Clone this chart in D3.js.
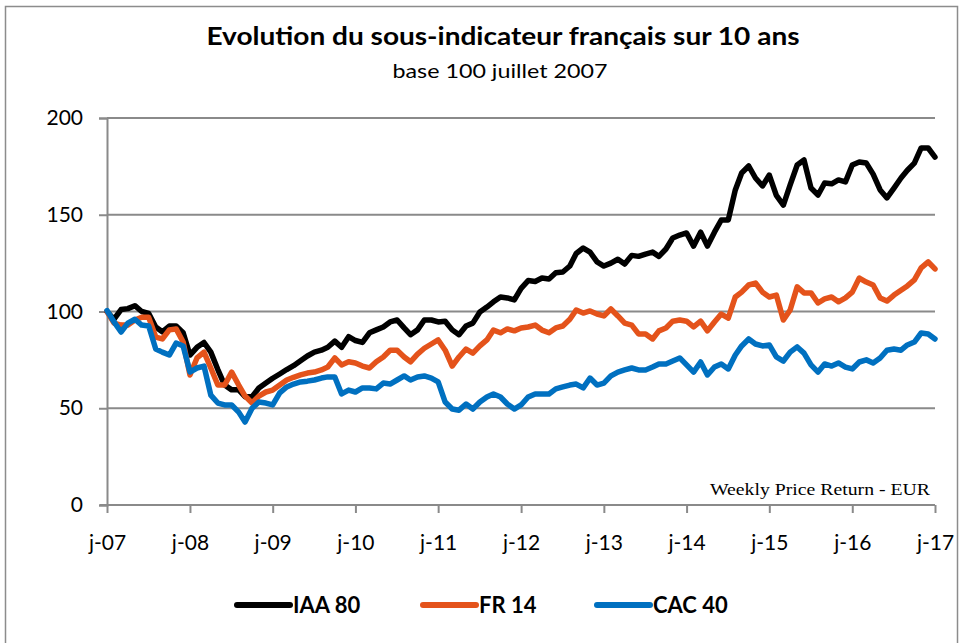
<!doctype html>
<html>
<head>
<meta charset="utf-8">
<title>Evolution du sous-indicateur français</title>
<style>
* {padding:0;margin:0}
body {background:#fff}
</style>
</head>
<body>
<div id="chart"></div>
<script src="https://d3js.org/d3.v7.min.js"></script>
<script>
// valeurs mensuelles, base 100 juillet 2007
const iaa80 = [100,96,101,101.5,103,100,99,92,89.5,92.5,92.5,89,77.5,81.5,84,79,70,62,59.5,59.5,56,56,60.5,63,65.5,
  67.7,70,72,74.5,77,79,80,81.5,84.7,81.5,87,85,84,89,90.5,92,94.6,95.6,91.5,88,90.5,95.6,95.6,94.6,95,90.5,88,92.5,94,
  99.7,102.3,105,107.5,107,106,112,116,115.5,117.3,116.8,120,120.4,123.5,130,132.8,130.7,125.6,123.5,125,127,124.5,129,128.5,
  129.7,130.7,128.5,132.3,138,139.5,140.6,133.8,141,133.8,141,147.3,147.3,162.8,171.6,175.2,169,164.9,170.5,160,155,165.4,
  175.7,178.3,163.8,160.2,166.4,166,168,167,175.7,177.3,176.7,171,162.8,158.7,163.8,169,173,176.7,184.5,184.5,179.8];
const fr14 = [100,94,93,93,95.6,97,97,86.8,85.8,90.5,91,84.2,67.2,76,79,70.8,62,62,68.7,62,56.3,52.7,56.3,58.4,59.4,
  62,64.6,66,67.2,68.2,68.7,69.8,71.3,76,72.4,74,73.4,71.8,70.8,74,76.5,80,80,76.5,74,78,81,83.2,85.3,80,71.8,76.5,80.6,78.5,
  82.2,85.3,90.4,89,91,90,91.5,92,93,90.4,89,91.5,92.5,96,100.8,99.2,100.3,98.7,97.7,101.3,97.7,94,93,88.4,88.4,85.8,90,91.5,
  95,95.6,95,92,95,90,94.6,98.7,96.6,107.5,110,113.7,114.7,110,107.5,108.5,95.6,100.8,112.7,109.6,109.6,104.4,106.5,107.5,
  105,107,110,117.3,115.2,113.7,107,105.4,108.5,111,113.2,116.3,122.5,125.6,122];
const cac40 = [100.5,94.6,89.4,94,96,93,92.5,80.6,79,77.5,83.7,82.2,68.7,70.8,71.8,56.8,52.7,51.7,51.7,48,42.9,50,53.2,52.7,51.7,
  57.9,61,62.5,63.6,64,64.6,65.6,66.2,66.2,57.4,59.4,58.4,60.5,60.5,60,63,62.5,64.6,66.7,64.6,66.2,66.7,65.6,63.6,53.2,49.6,49,
  52.2,49.6,53.2,55.8,57.4,55.8,52.2,49.6,51.7,55.8,57.4,57.4,57.4,60,61,62,62.5,60.5,65.6,62,63,66.7,68.7,69.8,70.8,69.8,69.8,
  71.3,72.9,72.9,74.4,76,72.4,68.7,73.9,67.2,71.3,72.9,70.3,77.5,82.2,85.8,83.2,82.2,82.7,76.5,74.4,79,81.7,78.5,72.4,68.7,
  72.9,71.8,73.4,71.3,70.3,73.9,75,73.4,76,80,80.6,80,82.7,84.2,88.9,88.4,85.8];

const seriesNames = ["IAA 80", "FR 14", "CAC 40"];
const seriesColors = ["#000000", "#E4531B", "#0070C0"];
const xTickLabels = ["j-07","j-08","j-09","j-10","j-11","j-12","j-13","j-14","j-15","j-16","j-17"];
const yTicks = [0, 50, 100, 150, 200];

const dates = d3.timeMonth.range(new Date(2007, 6, 1), new Date(2017, 6, 2));
const yearTicks = d3.timeYear.range(new Date(2007, 0, 1), new Date(2018, 0, 1)).map(d => new Date(d.getFullYear(), 6, 1));

const W = 963, H = 643;
const plot = {left: 107, right: 935, top: 118, bottom: 505};

const x = d3.scaleTime().domain([dates[0], dates[dates.length - 1]]).range([plot.left, plot.right]);
const y = d3.scaleLinear().domain([0, 200]).range([plot.bottom, plot.top]);

const svg = d3.select("#chart").append("svg")
  .attr("width", W)
  .attr("height", H);

// cadre
svg.append("rect")
  .attr("x", 5.5).attr("y", 6.5)
  .attr("width", 952).attr("height", 660)
  .attr("fill", "#fff")
  .attr("stroke", "#8c8c8c")
  .attr("stroke-width", 1.5);

// titres
svg.append("text")
  .attr("x", 503).attr("y", 45)
  .attr("text-anchor", "middle")
  .attr("font-family", "Lato, 'Open Sans', sans-serif")
  .attr("font-weight", "bold")
  .attr("font-size", 25)
  .attr("textLength", 593)
  .attr("lengthAdjust", "spacingAndGlyphs")
  .attr("fill", "#000")
  .text("Evolution du sous-indicateur français sur 10 ans");

svg.append("text")
  .attr("x", 500).attr("y", 78)
  .attr("text-anchor", "middle")
  .attr("font-family", "Lato, 'Open Sans', sans-serif")
  .attr("font-size", 20)
  .attr("textLength", 215)
  .attr("lengthAdjust", "spacingAndGlyphs")
  .attr("fill", "#000")
  .text("base 100 juillet 2007");

// grille horizontale
svg.append("g").selectAll("line")
  .data(yTicks.filter(d => d > 0)).enter()
  .append("line")
  .attr("x1", plot.left).attr("x2", plot.right)
  .attr("y1", d => y(d)).attr("y2", d => y(d))
  .attr("stroke", "#8a8a8a")
  .attr("stroke-width", 2);

// axe Y
const yAxis = svg.append("g")
  .attr("transform", "translate(" + plot.left + ",0)")
  .call(d3.axisLeft(y).tickValues(yTicks).tickSize(8).tickPadding(16).tickFormat(d3.format("d")));
yAxis.select(".domain").attr("stroke", "#8a8a8a").attr("stroke-width", 2);
yAxis.selectAll(".tick line").attr("stroke", "#8a8a8a").attr("stroke-width", 2);
yAxis.selectAll("text")
  .attr("font-family", "Lato, 'Open Sans', sans-serif")
  .attr("font-size", 21)
  .attr("fill", "#000");

// axe X
const xAxis = svg.append("g")
  .attr("transform", "translate(0," + plot.bottom + ")")
  .call(d3.axisBottom(x).tickValues(yearTicks).tickSize(8).tickPadding(22)
    .tickFormat((d, i) => xTickLabels[i]));
xAxis.select(".domain").attr("stroke", "#8a8a8a").attr("stroke-width", 2).attr("d", "M" + (plot.left - 7) + ",0H" + plot.right);
xAxis.selectAll(".tick line").attr("stroke", "#8a8a8a").attr("stroke-width", 2);
xAxis.selectAll("text")
  .attr("font-family", "Lato, 'Open Sans', sans-serif")
  .attr("font-size", 21)
  .attr("fill", "#000");

svg.append("text")
  .attr("x", 930).attr("y", 495)
  .attr("text-anchor", "end")
  .attr("font-family", "'Liberation Serif', serif")
  .attr("font-size", 17)
  .attr("textLength", 220)
  .attr("lengthAdjust", "spacingAndGlyphs")
  .attr("fill", "#000")
  .text("Weekly Price Return - EUR");

// courbes
const line = d3.line()
  .x((d, i) => x(dates[i]))
  .y(d => y(d));

const allSeries = [iaa80, fr14, cac40];
svg.append("g").selectAll("path")
  .data(allSeries).enter()
  .append("path")
  .attr("d", d => line(d))
  .attr("fill", "none")
  .attr("stroke", (d, i) => seriesColors[i])
  .attr("stroke-width", 5.5)
  .attr("stroke-linejoin", "round")
  .attr("stroke-linecap", "round");

// légende
const legendX = [237, 423, 597];
const leg = svg.append("g").selectAll("g")
  .data(seriesNames).enter()
  .append("g")
  .attr("transform", (d, i) => "translate(" + legendX[i] + ",605)");
leg.append("line")
  .attr("x1", 0).attr("x2", 53)
  .attr("stroke", (d, i) => seriesColors[i])
  .attr("stroke-width", 6)
  .attr("stroke-linecap", "round");
leg.append("text")
  .attr("x", 56).attr("y", 8)
  .attr("font-family", "Lato, 'Open Sans', sans-serif")
  .attr("font-weight", "bold")
  .attr("font-size", 22)
  .attr("fill", "#000")
  .text(d => d);
</script>
</body>
</html>
